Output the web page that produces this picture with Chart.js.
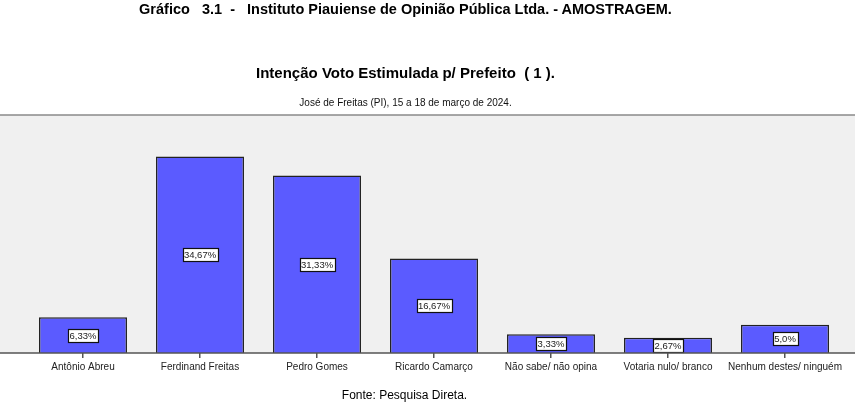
<!DOCTYPE html>
<html>
<head>
<meta charset="utf-8">
<script src="https://cdn.jsdelivr.net/npm/chart.js@4.4.1/dist/chart.umd.min.js"></script>
<style>
    body { margin: 0; background: #fff; font-family: "Liberation Sans", Arial, sans-serif; }
    #wrap { position: relative; width: 855px; height: 403px; overflow: hidden; }
    canvas { position: absolute; left: 0; top: 0; }
    .txt { position: absolute; left: -22px; width: 855px; text-align: center; white-space: pre; color: #000; line-height: 1; }
    #t1 { top: 2px; font-size: 14.5px; font-weight: bold; }
    #t2 { top: 65px; font-size: 15px; font-weight: bold; }
    #t3 { top: 98px; font-size: 10px; color: #111; }
    #fonte { top: 389px; left: -23px; font-size: 12px; }
</style>
</head>
<body>
<div id="wrap">
    <canvas id="grafico" width="855" height="403"></canvas>
    <div class="txt" id="t1">Gráfico   3.1  -   Instituto Piauiense de Opinião Pública Ltda. - AMOSTRAGEM.</div>
    <div class="txt" id="t2">Intenção Voto Estimulada p/ Prefeito  ( 1 ).</div>
    <div class="txt" id="t3">José de Freitas (PI), 15 a 18 de março de 2024.</div>
    <div class="txt" id="fonte">Fonte: Pesquisa Direta.</div>
</div>
<script>
// Datos del gráfico
const categorias = ['Antônio Abreu', 'Ferdinand Freitas', 'Pedro Gomes', 'Ricardo Camarço',
    'Não sabe/ não opina', 'Votaria nulo/ branco', 'Nenhum destes/ ninguém'];
const porcentajes = [6.33, 34.67, 31.33, 16.67, 3.33, 2.67, 5.0];
const etiquetas = ['6,33%', '34,67%', '31,33%', '16,67%', '3,33%', '2,67%', '5,0%'];

// Fondo gris y líneas de borde a todo el ancho
const fondoPlugin = {
    id: 'fondo',
    beforeDraw(chart) {
        const { ctx, chartArea, width } = chart;
        ctx.save();
        ctx.fillStyle = '#f0f0f0';
        ctx.fillRect(0, chartArea.top, width, chartArea.bottom - chartArea.top);
        ctx.strokeStyle = '#8a8a8a';
        ctx.lineWidth = 1.5;
        ctx.beginPath();
        ctx.moveTo(0, chartArea.top);
        ctx.lineTo(width, chartArea.top);
        ctx.stroke();
        ctx.restore();
    },
    afterDraw(chart) {
        const { ctx, chartArea, width } = chart;
        ctx.save();
        ctx.strokeStyle = '#555';
        ctx.lineWidth = 1.5;
        ctx.beginPath();
        ctx.moveTo(0, chartArea.bottom);
        ctx.lineTo(width, chartArea.bottom);
        ctx.stroke();
        ctx.restore();
    }
};

// Etiquetas de valor en cajas blancas, centradas en cada barra
const etiquetasPlugin = {
    id: 'etiquetas',
    afterDatasetsDraw(chart) {
        const { ctx } = chart;
        const meta = chart.getDatasetMeta(0);
        ctx.save();
        ctx.font = '9.5px "Liberation Sans", Arial, sans-serif';
        ctx.textAlign = 'center';
        ctx.textBaseline = 'middle';
        meta.data.forEach((bar, i) => {
            const texto = etiquetas[i];
            const cy = (bar.y + bar.base) / 2;
            const w = Math.round(ctx.measureText(texto).width + 3);
            const h = 13;
            const x0 = Math.round(bar.x - w / 2) + 0.5;
            const y0 = Math.round(cy - h / 2) + 0.5;
            ctx.fillStyle = '#fff';
            ctx.fillRect(x0, y0, w, h);
            ctx.strokeStyle = '#111';
            ctx.lineWidth = 1.2;
            ctx.strokeRect(x0, y0, w, h);
            ctx.fillStyle = '#222';
            ctx.fillText(texto, bar.x, y0 + h / 2 + 0.5);
        });
        ctx.restore();
    }
};

new Chart(document.getElementById('grafico'), {
    type: 'bar',
    data: {
        labels: categorias,
        datasets: [{
            data: porcentajes,
            backgroundColor: '#5b5bff',
            borderColor: '#222',
            borderWidth: 1.5,
            barPercentage: 0.752,
            categoryPercentage: 1.0
        }]
    },
    options: {
        responsive: false,
        animation: false,
        layout: { padding: { top: 115, left: 24.5, right: 11.5, bottom: 27 } },
        plugins: {
            legend: { display: false },
            tooltip: { enabled: false }
        },
        scales: {
            x: {
                grid: { offset: false, drawOnChartArea: false, drawTicks: true, tickLength: 5, color: '#555', lineWidth: 1.5 },
                border: { display: false },
                ticks: { color: '#222', font: { size: 10, family: '"Liberation Sans", Arial, sans-serif' }, padding: 3, maxRotation: 0, autoSkip: false }
            },
            y: { display: false, min: 0, max: 42 }
        }
    },
    plugins: [fondoPlugin, etiquetasPlugin]
});
</script>
</body>
</html>
